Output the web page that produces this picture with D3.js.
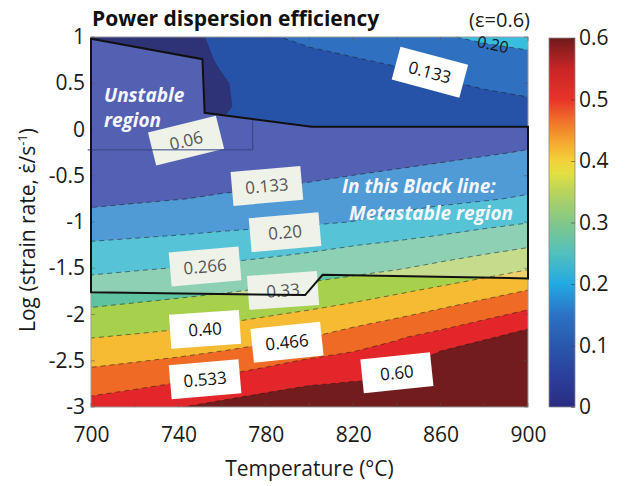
<!DOCTYPE html>
<html>
<head>
<meta charset="utf-8">
<script src="https://cdn.jsdelivr.net/npm/d3@7"></script>
<style>
  body { margin: 0; background: #fff; }
  text { font-family: "Open Sans", sans-serif; }
</style>
</head>
<body>
<svg id="chart" width="628" height="486"></svg>
<script>
// grid of efficiency values, rows from log rate 1 down to -3
const temperatures = [700, 720, 740, 760, 780, 800, 820, 840, 860, 880, 900];
const logStrainRates = [1, 0.75, 0.5, 0.25, 0, -0.25, -0.5, -0.75, -1, -1.25, -1.5, -1.75, -2, -2.25, -2.5, -2.75, -3];
const efficiency = [
  [0.030, 0.030, 0.030, 0.090, 0.125, 0.150, 0.166, 0.182, 0.195, 0.209, 0.218],
  [0.030, 0.030, 0.030, 0.075, 0.110, 0.112, 0.128, 0.144, 0.162, 0.176, 0.186],
  [0.030, 0.030, 0.030, 0.060, 0.100, 0.100, 0.105, 0.105, 0.126, 0.143, 0.154],
  [0.030, 0.030, 0.030, 0.058, 0.095, 0.095, 0.097, 0.097, 0.105, 0.106, 0.119],
  [0.035, 0.037, 0.050, 0.073, 0.090, 0.095, 0.095, 0.097, 0.100, 0.100, 0.110],
  [0.054, 0.066, 0.077, 0.094, 0.095, 0.100, 0.100, 0.110, 0.119, 0.128, 0.137],
  [0.086, 0.096, 0.105, 0.115, 0.112, 0.124, 0.134, 0.143, 0.152, 0.161, 0.171],
  [0.118, 0.125, 0.132, 0.139, 0.150, 0.158, 0.167, 0.176, 0.186, 0.195, 0.207],
  [0.159, 0.167, 0.174, 0.181, 0.187, 0.192, 0.201, 0.218, 0.234, 0.250, 0.264],
  [0.208, 0.214, 0.220, 0.228, 0.237, 0.250, 0.265, 0.278, 0.292, 0.308, 0.326],
  [0.253, 0.261, 0.269, 0.279, 0.291, 0.303, 0.315, 0.329, 0.349, 0.371, 0.395],
  [0.300, 0.309, 0.319, 0.329, 0.341, 0.354, 0.371, 0.392, 0.415, 0.441, 0.471],
  [0.348, 0.358, 0.367, 0.379, 0.395, 0.411, 0.431, 0.455, 0.484, 0.516, 0.549],
  [0.399, 0.408, 0.418, 0.432, 0.448, 0.467, 0.496, 0.528, 0.558, 0.592, 0.630],
  [0.452, 0.463, 0.476, 0.492, 0.516, 0.540, 0.557, 0.569, 0.630, 0.669, 0.690],
  [0.504, 0.519, 0.537, 0.558, 0.578, 0.596, 0.605, 0.607, 0.660, 0.700, 0.720],
  [0.560, 0.579, 0.598, 0.617, 0.635, 0.651, 0.652, 0.640, 0.680, 0.720, 0.750]
];
const levels = [0, 0.0667, 0.1333, 0.2, 0.2667, 0.3333, 0.4, 0.4667, 0.5333, 0.6];
const bandColors = ["#2e3277", "#2653a8", "#3070c0", "#37bde0", "#5fc3a2", "#a7d04d", "#f4bb33", "#ef6a24", "#e2262a", "#721c1e"];
// colours seen inside the black outline (lighter rendering)
const metastableColors = ["#5461b2", "#5261b3", "#509bd6", "#56c3d7", "#8ed0b4", "#c5dc8d", "#efd06c", "#ef9a5a", "#e26060", "#a05050"];

const metastableLine = [[700, 0.98], [751, 0.76], [752, 0.18], [801, 0.03], [900, 0.03], [900, -1.61], [806, -1.57], [798, -1.79], [700, -1.76]];
const unstableLine = [[698.5, -0.22], [774, -0.22], [774, 0.12]];

const contourLabels = [
  {text: "0.06", t: 743.5, r: -0.12, angle: -14, inside: true},
  {text: "0.133", t: 780.5, r: -0.61, angle: -5, inside: true},
  {text: "0.20", t: 788.8, r: -1.11, angle: -5, inside: true},
  {text: "0.266", t: 752.2, r: -1.48, angle: -5, inside: true},
  {text: "0.33", t: 787.9, r: -1.74, angle: -4, inside: true},
  {text: "0.40", t: 752.2, r: -2.16, angle: -4, inside: false},
  {text: "0.466", t: 789.7, r: -2.30, angle: -6, inside: false},
  {text: "0.533", t: 752.2, r: -2.70, angle: -5, inside: false},
  {text: "0.60", t: 840, r: -2.63, angle: -6, inside: false},
  {text: "0.133", t: 855.1, r: 0.62, angle: 15, inside: false}
];
const freeLabel = {text: "0.20", t: 884, r: 0.92, angle: 12};

const xTicks = [700, 740, 780, 820, 860, 900];
const yTicks = [1, 0.5, 0, -0.5, -1, -1.5, -2, -2.5, -3];
const barTicks = [0, 0.1, 0.2, 0.3, 0.4, 0.5, 0.6];
const barStops = [
  [0, "#2a2c80"], [0.05, "#2b3f9c"], [0.1, "#2a58ad"], [0.15, "#2c72c4"],
  [0.2, "#22a9e4"], [0.25, "#52c0bd"], [0.3, "#82c78a"], [0.35, "#b8d45a"],
  [0.38, "#e2e043"], [0.4, "#f3d23a"], [0.43, "#f5a830"], [0.46, "#f07b29"],
  [0.5, "#e8342a"], [0.55, "#c92526"], [0.6, "#6e1a1c"]
];

const svg = d3.select("#chart");
const plot = {left: 91, right: 528, top: 37, bottom: 407};

const x = d3.scaleLinear().domain([700, 900]).range([plot.left, plot.right]);
const y = d3.scaleLinear().domain([-3, 1]).range([plot.bottom, plot.top]);

const nx = temperatures.length, ny = logStrainRates.length;
const gridT = d3.scaleLinear().domain([0.5, nx - 0.5]).range([temperatures[0], temperatures[nx - 1]]);
const gridR = d3.scaleLinear().domain([0.5, ny - 0.5]).range([logStrainRates[0], logStrainRates[ny - 1]]);
const toScreen = d3.geoTransform({
  point(gx, gy) { this.stream.point(x(gridT(gx)), y(gridR(gy))); }
});
const path = d3.geoPath(toScreen);
const bands = d3.contours().size([nx, ny]).thresholds(levels)(efficiency.flat());

const line = d3.line().x(d => x(d[0])).y(d => y(d[1]));

const defs = svg.append("defs");
defs.append("clipPath").attr("id", "plot-clip")
  .append("rect")
  .attr("x", plot.left).attr("y", plot.top)
  .attr("width", plot.right - plot.left).attr("height", plot.bottom - plot.top);
defs.append("clipPath").attr("id", "meta-clip")
  .append("path").attr("d", line(metastableLine) + "Z");

// filled bands
svg.append("g").attr("clip-path", "url(#plot-clip)")
  .selectAll("path").data(bands).join("path")
  .attr("d", path)
  .attr("fill", (d, i) => bandColors[i]);

svg.append("g").attr("clip-path", "url(#meta-clip)")
  .selectAll("path").data(bands).join("path")
  .attr("d", path)
  .attr("fill", (d, i) => metastableColors[i]);

// dashed iso lines
svg.append("g").attr("clip-path", "url(#plot-clip)")
  .selectAll("path").data(bands.slice(2)).join("path")
  .attr("d", path)
  .attr("fill", "none")
  .attr("stroke", "#1a1a1a")
  .attr("stroke-opacity", 0.6)
  .attr("stroke-width", 0.9)
  .attr("stroke-dasharray", "5,4");

// frame
svg.append("rect")
  .attr("x", plot.left).attr("y", plot.top)
  .attr("width", plot.right - plot.left).attr("height", plot.bottom - plot.top)
  .attr("fill", "none").attr("stroke", "#9a9a9a").attr("stroke-width", 1);

// inward ticks on all four sides
const minorT = d3.range(700, 901, 20);
const tickG = svg.append("g").attr("stroke", "#555").attr("stroke-opacity", 0.5);
minorT.forEach(t => {
  tickG.append("line").attr("x1", x(t)).attr("x2", x(t)).attr("y1", plot.bottom).attr("y2", plot.bottom - 4);
  tickG.append("line").attr("x1", x(t)).attr("x2", x(t)).attr("y1", plot.top).attr("y2", plot.top + 4);
});
yTicks.forEach(r => {
  tickG.append("line").attr("x1", plot.left).attr("x2", plot.left + 4).attr("y1", y(r)).attr("y2", y(r));
  tickG.append("line").attr("x1", plot.right).attr("x2", plot.right - 4).attr("y1", y(r)).attr("y2", y(r));
});

// contour labels
const labelG = svg.append("g").selectAll("g").data(contourLabels).join("g")
  .attr("transform", d => `translate(${x(d.t)},${y(d.r)}) rotate(${d.angle})`);
labelG.append("rect")
  .attr("x", -35).attr("y", -17).attr("width", 70).attr("height", 34)
  .attr("fill", d => d.inside ? "#eef2e9" : "#ffffff");
labelG.append("text")
  .attr("text-anchor", "middle").attr("dy", "0.36em")
  .attr("font-size", 17)
  .attr("fill", d => d.inside ? "#555" : "#111")
  .text(d => d.text);

svg.append("text")
  .attr("transform", `translate(${x(freeLabel.t)},${y(freeLabel.r)}) rotate(${freeLabel.angle})`)
  .attr("text-anchor", "middle").attr("dy", "0.36em")
  .attr("font-size", 16).attr("fill", "#1a1a1a")
  .text(freeLabel.text);

// region outlines
svg.append("path")
  .attr("d", line(unstableLine))
  .attr("fill", "none").attr("stroke", "#34457e").attr("stroke-width", 1);
svg.append("path")
  .attr("d", line(metastableLine) + "Z")
  .attr("fill", "none").attr("stroke", "#111").attr("stroke-width", 2);

// region notes
const note = svg.append("g")
  .attr("font-weight", "bold").attr("font-style", "italic")
  .attr("font-size", 19).attr("fill", "#f4f6fb");
note.append("text").attr("x", 104).attr("y", 102).text("Unstable");
note.append("text").attr("x", 104).attr("y", 127).text("region");
note.append("text").attr("x", 342).attr("y", 193).text("In this Black line:");
note.append("text").attr("x", 349).attr("y", 220).text("Metastable region");

// axes
const xAxis = svg.append("g")
  .attr("transform", `translate(0,${plot.bottom})`)
  .call(d3.axisBottom(x).tickValues(xTicks).tickSize(0).tickPadding(20).tickFormat(d => String(d)));
xAxis.select(".domain").remove();
xAxis.selectAll("text").attr("font-size", 21).attr("fill", "#1a1a1a").attr("font-family", "Open Sans");

const yAxis = svg.append("g")
  .attr("transform", `translate(${plot.left},0)`)
  .call(d3.axisLeft(y).tickValues(yTicks).tickSize(0).tickPadding(6).tickFormat(d => String(d)));
yAxis.select(".domain").remove();
yAxis.selectAll("text").attr("font-size", 21).attr("fill", "#1a1a1a").attr("font-family", "Open Sans");

svg.append("text")
  .attr("x", (plot.left + plot.right) / 2).attr("y", 476)
  .attr("text-anchor", "middle").attr("font-size", 21).attr("fill", "#1a1a1a")
  .text("Temperature (°C)");

const yLabel = svg.append("text")
  .attr("transform", "translate(35,230) rotate(-90)")
  .attr("text-anchor", "middle").attr("font-size", 21).attr("fill", "#1a1a1a");
yLabel.append("tspan").text("Log (strain rate, \u03b5\u0307/s");
yLabel.append("tspan").attr("font-size", 13).attr("dy", -8).text("-1");
yLabel.append("tspan").attr("dy", 8).text(")");

svg.append("text")
  .attr("x", 92).attr("y", 26)
  .attr("font-size", 21).attr("font-weight", "bold").attr("fill", "#111")
  .text("Power dispersion efficiency");
svg.append("text")
  .attr("x", 530).attr("y", 27).attr("text-anchor", "end")
  .attr("font-size", 20).attr("fill", "#1a1a1a")
  .text("(\u03b5=0.6)");

// colour bar
const bar = {left: 549, width: 26};
const c = d3.scaleLinear().domain([0, 0.6]).range([plot.bottom, plot.top + 1]);
const grad = defs.append("linearGradient").attr("id", "bar-grad")
  .attr("x1", 0).attr("y1", 1).attr("x2", 0).attr("y2", 0);
grad.selectAll("stop").data(barStops).join("stop")
  .attr("offset", d => d[0] / 0.6)
  .attr("stop-color", d => d[1]);
svg.append("rect")
  .attr("x", bar.left).attr("y", c(0.6))
  .attr("width", bar.width).attr("height", c(0) - c(0.6))
  .attr("fill", "url(#bar-grad)").attr("stroke", "#8a8a8a").attr("stroke-width", 0.8);

const barAxis = svg.append("g")
  .attr("transform", `translate(${bar.left + bar.width},0)`)
  .call(d3.axisRight(c).tickValues(barTicks).tickSizeInner(-4).tickSizeOuter(0).tickPadding(4).tickFormat(d => String(d)));
barAxis.select(".domain").remove();
barAxis.selectAll("line").attr("stroke", "#333").attr("stroke-opacity", 0.5);
barAxis.selectAll("text").attr("font-size", 21).attr("fill", "#1a1a1a").attr("font-family", "Open Sans");
</script>
</body>
</html>
